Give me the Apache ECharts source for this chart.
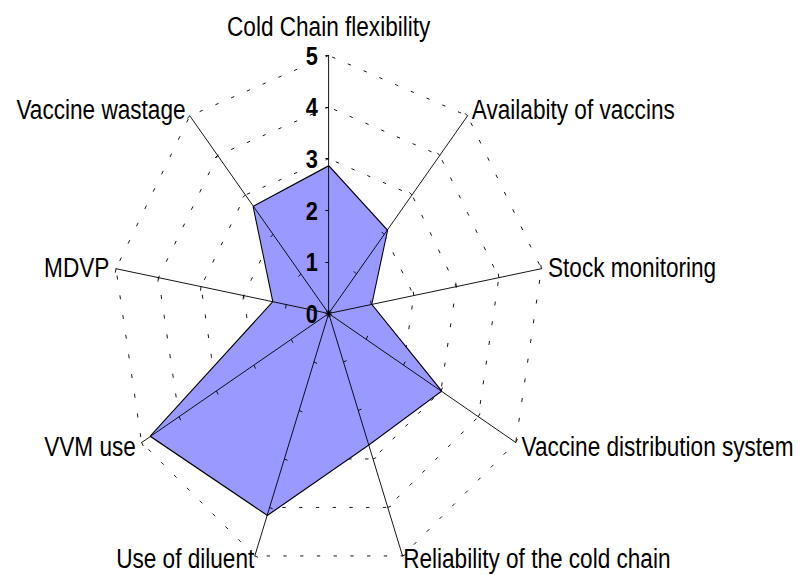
<!DOCTYPE html>
<html><head><meta charset="utf-8">
<script src="https://cdn.jsdelivr.net/npm/echarts@6/dist/echarts.min.js"></script>
<style>
html,body{margin:0;padding:0;overflow:hidden;background:#fff;width:802px;height:575px}
#wrap{width:802px;height:575px;overflow:hidden;position:relative}
#chart{width:958px;height:575px;transform:scaleX(0.8372);transform-origin:0 0;}
</style></head><body><div id="wrap"><div id="chart"></div></div>
<script>
// Data (clockwise from top)
const categories = ["Cold Chain flexibility","Availabity of vaccins","Stock monitoring","Vaccine distribution system","Reliability of the cold chain","Use of diluent","VVM use","MDVP","Vaccine wastage"];
const scores = [2.85, 2.1, 1.0, 3.0, 2.7, 4.15, 4.75, 1.3, 2.7];
const tickLabels = ["0","1","2","3","4","5"];
const axisMin = 0, axisMax = 5;

// ECharts radar runs counter-clockwise; reorder so the picture runs clockwise
const order = [0];
for (let i = categories.length - 1; i >= 1; i--) order.push(i);
const font = "'Liberation Sans', Arial, sans-serif";
const center = [392.6, 313.5];
const radius = 258;

const indicatorsGrid = order.map(i => ({ name: categories[i], min: axisMin, max: axisMax }));
const indicatorsAxes = order.map((i, k) => {
  const o = { name: categories[i], min: axisMin, max: axisMax };
  if (k === 0) { o.axisLabel = { show: true }; o.nameGap = 16; }
  if (i === 4 || i === 5) { o.nameGap = 2; }
  return o;
});

const chart = echarts.init(document.getElementById('chart'), null, { renderer: 'svg' });
chart.setOption({
  backgroundColor: '#fff',
  animation: false,
  radar: [
    {
      z: 0,
      center: center, radius: radius, shape: 'polygon', splitNumber: 5,
      indicator: indicatorsGrid,
      axisName: { show: false },
      axisLine: { show: false },
      axisTick: { show: false },
      axisLabel: { show: false },
      splitArea: { show: false },
      splitLine: { show: true, lineStyle: { color: '#000', width: 1, type: [4, 16] } }
    },
    {
      z: 5,
      center: center, radius: radius, shape: 'polygon', splitNumber: 5,
      indicator: indicatorsAxes,
      nameGap: 8,
      axisName: { show: true, color: '#000', fontSize: 27, fontFamily: font },
      axisLine: { show: true, lineStyle: { color: '#000', width: 1 } },
      axisTick: { show: true, length: 4, lineStyle: { color: '#000', width: 1 } },
      axisLabel: { show: false, color: '#000', fontSize: 26, fontWeight: 'bold', fontFamily: font, margin: 13,
        formatter: v => tickLabels[Math.round(v)] },
      splitArea: { show: false },
      splitLine: { show: false }
    }
  ],
  series: [{
    type: 'radar', radarIndex: 0, z: 2,
    symbol: 'none',
    lineStyle: { color: '#000', width: 2.5 },
    areaStyle: { color: '#9999FF', opacity: 1 },
    data: [{ value: order.map(i => scores[i]), name: 'Score' }]
  }]
});
</script></body></html>
